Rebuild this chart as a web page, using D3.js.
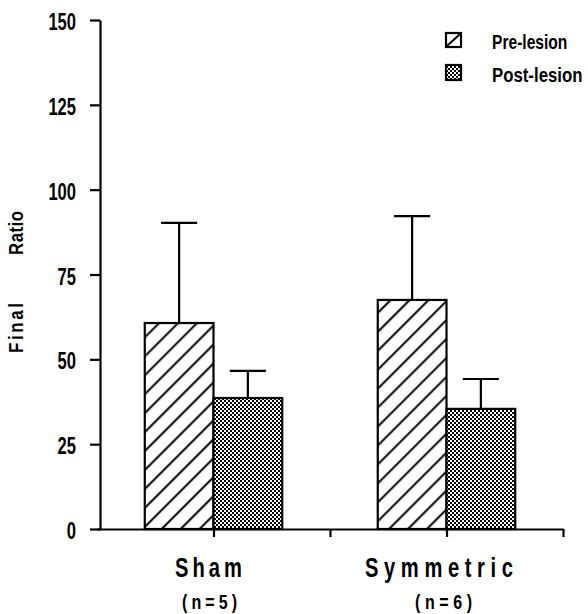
<!DOCTYPE html>
<html><head><meta charset="utf-8">
<script src="https://cdn.jsdelivr.net/npm/d3@7"></script>
<style>
html,body{margin:0;padding:0;background:#fff;}
svg{display:block;}
text{font-family:"Liberation Sans",Arial,sans-serif;font-weight:bold;fill:#000;}
</style></head>
<body>
<script>
const categories = ["Sham", "Symmetric"];
const nLabels = ["(n=5)", "(n=6)"];
const seriesNames = ["Pre-lesion", "Post-lesion"];
const preValues = [60.7, 67.5];
const preErrors = [29.5, 24.7];
const postValues = [38.6, 35.4];
const postErrors = [8.0, 8.8];
const yTicks = [0, 25, 50, 75, 100, 125, 150];
const xTickPositions = [1, 2, 3, 4];
const categoryPositions = [1, 3];
const yLabelWords = ["Final", "Ratio"];

const W = 588, H = 614;
const svg = d3.select("body").append("svg").attr("width", W).attr("height", H);

const defs = svg.append("defs");
const hatch = defs.append("pattern").attr("id", "hatch")
  .attr("patternUnits", "userSpaceOnUse").attr("width", 13.4).attr("height", 13.4)
  .attr("patternTransform", "rotate(45)");
hatch.append("rect").attr("width", 13.4).attr("height", 13.4).attr("fill", "#fff");
hatch.append("line").attr("x1", 6).attr("x2", 6).attr("y1", -1).attr("y2", 15)
  .attr("stroke", "#000").attr("stroke-width", 2);

const dots = defs.append("pattern").attr("id", "dots")
  .attr("patternUnits", "userSpaceOnUse").attr("width", 4).attr("height", 4);
dots.append("rect").attr("width", 4).attr("height", 4).attr("fill", "#fff");
dots.append("rect").attr("x", 0).attr("y", 0).attr("width", 2).attr("height", 2).attr("fill", "#000");
dots.append("rect").attr("x", 2).attr("y", 2).attr("width", 2).attr("height", 2).attr("fill", "#000");
dots.append("rect").attr("x", 1).attr("y", 1).attr("width", 1).attr("height", 1).attr("fill", "#000");

const y = d3.scaleLinear().domain([0, 150]).range([529, 20]);
const x = d3.scaleLinear().domain([0, 4]).range([97, 563]);
const barW = 0.59;

// Bars
const bars = svg.append("g");
categoryPositions.forEach((c, i) => {
  bars.append("rect")
    .attr("x", x(c - barW)).attr("width", x(c) - x(c - barW))
    .attr("y", y(preValues[i])).attr("height", y(0) - y(preValues[i]))
    .attr("fill", "url(#hatch)").attr("stroke", "#000").attr("stroke-width", 2.2);
  bars.append("rect")
    .attr("x", x(c)).attr("width", x(c + barW) - x(c))
    .attr("y", y(postValues[i])).attr("height", y(0) - y(postValues[i]))
    .attr("fill", "url(#dots)").attr("stroke", "#000").attr("stroke-width", 2.2);
});

// Error bars
const eb = svg.append("g").attr("stroke", "#000").attr("stroke-width", 2.2);
const capHalf = 0.155;
categoryPositions.forEach((c, i) => {
  [[c - barW / 2, preValues[i], preErrors[i]], [c + barW / 2, postValues[i], postErrors[i]]].forEach(([cx, v, e]) => {
    eb.append("line").attr("x1", x(cx)).attr("x2", x(cx)).attr("y1", y(v)).attr("y2", y(v + e));
    eb.append("line").attr("x1", x(cx - capHalf)).attr("x2", x(cx + capHalf)).attr("y1", y(v + e)).attr("y2", y(v + e));
  });
});

// Y axis
const yAxis = svg.append("g").attr("transform", "translate(100,0)")
  .call(d3.axisLeft(y).tickValues(yTicks).tickSize(10).tickSizeOuter(0));
yAxis.select(".domain").attr("stroke-width", 2.2);
yAxis.selectAll(".tick line").attr("stroke-width", 2.2);
yAxis.selectAll(".tick text")
  .attr("x", null).attr("dy", null)
  .attr("font-size", 23).attr("font-family", null)
  .attr("text-anchor", "end")
  .attr("transform", "translate(-24,9.5) scale(0.72,1)");

// X axis
const xAxis = svg.append("g").attr("transform", "translate(0,529)")
  .call(d3.axisBottom(x).tickValues(xTickPositions).tickSize(8).tickSizeOuter(0).tickFormat(""));
xAxis.select(".domain").attr("stroke-width", 2.2);
xAxis.selectAll(".tick line").attr("stroke-width", 2.2);

function scaledText(parent, str, tx, ty, sx, size, width, anchor, adjust) {
  const g = parent.append("g").attr("transform", `translate(${tx},${ty}) scale(${sx},1)`);
  const t = g.append("text").attr("font-size", size).attr("text-anchor", anchor || "start").text(str);
  if (width) t.attr("textLength", width / sx).attr("lengthAdjust", adjust || "spacing");
  return t;
}

// Category labels
const catW = [67, 148];
const catStart = [175, 365];
const nW = [55, 57];
const nStart = [182, 415];
categories.forEach((c, i) => {
  scaledText(svg, c, catStart[i], 577, 0.72, 28, catW[i]);
  scaledText(svg, nLabels[i], nStart[i], 609, 0.8, 20, nW[i]);
});

// Y label (rotated)
const yl = svg.append("g").attr("transform", "translate(23,0) rotate(-90)");
scaledText(yl, yLabelWords[0], -353, 0, 0.8, 21, 50);
scaledText(yl, yLabelWords[1], -255, 0, 0.8, 21, 44);

// Legend
const leg = svg.append("g");
leg.append("rect").attr("x", 446).attr("y", 33).attr("width", 15).attr("height", 14)
  .attr("fill", "#fff").attr("stroke", "#000").attr("stroke-width", 2.2);
leg.append("line").attr("x1", 447).attr("y1", 46).attr("x2", 460).attr("y2", 34)
  .attr("stroke", "#000").attr("stroke-width", 2);
leg.append("rect").attr("x", 446).attr("y", 65).attr("width", 15).attr("height", 15)
  .attr("fill", "url(#dots)").attr("stroke", "#000").attr("stroke-width", 2.2);
scaledText(leg, seriesNames[0], 492, 49, 0.78, 20);
scaledText(leg, seriesNames[1], 492, 82, 0.84, 20);
</script>
</body></html>
